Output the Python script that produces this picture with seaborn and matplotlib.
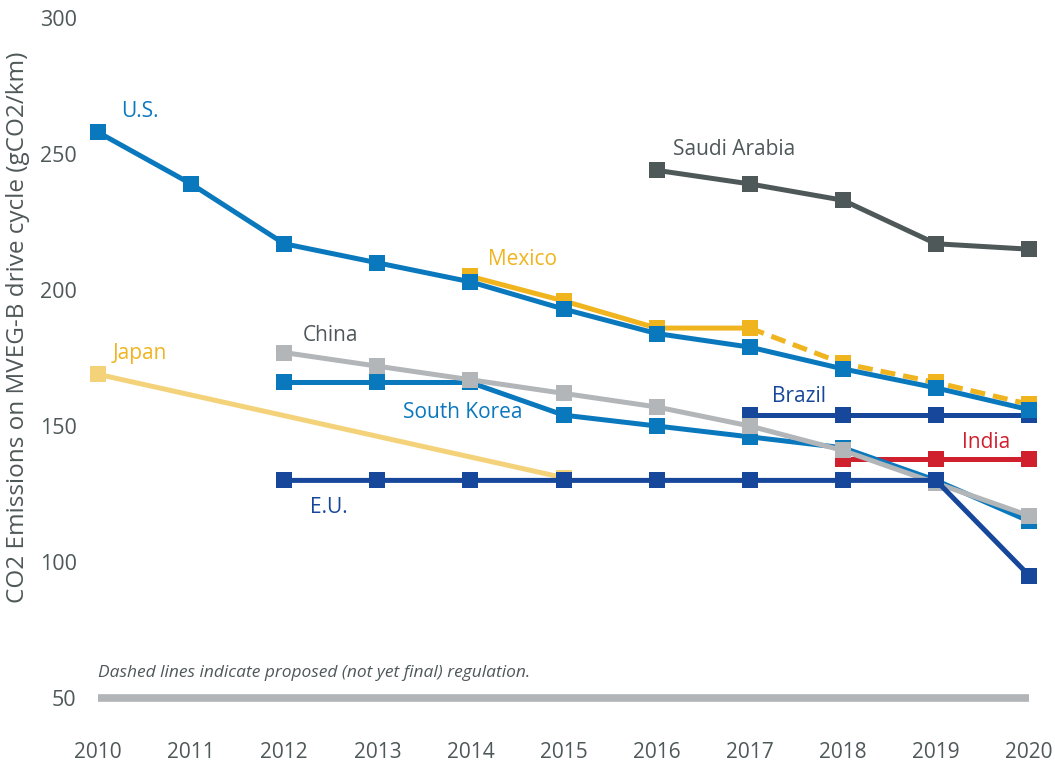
import matplotlib
matplotlib.use("Agg")
import matplotlib.pyplot as plt
import seaborn as sns
import pandas as pd

# ---- data (gCO2/km, MVEG-B drive cycle) ----
years_all = list(range(2010, 2021))

us_years = [2010, 2011, 2012, 2013, 2014, 2015, 2016, 2017, 2018, 2019, 2020]
us_values = [258, 239, 217, 210, 203, 193, 184, 179, 171, 164, 156]

mexico_years = [2014, 2015, 2016, 2017, 2018, 2019, 2020]
mexico_values = [205, 196, 186, 186, 173, 166, 158]
mexico_final_until = 2017  # later years are proposed regulation

saudi_years = [2016, 2017, 2018, 2019, 2020]
saudi_values = [244, 239, 233, 217, 215]

china_years = [2012, 2013, 2014, 2015, 2016, 2017, 2018, 2019, 2020]
china_values = [177, 172, 167, 162, 157, 150, 141, 129, 117]

korea_years = [2012, 2013, 2014, 2015, 2016, 2017, 2018, 2019, 2020]
korea_values = [166, 166, 166, 154, 150, 146, 142, 130, 115]

japan_years = [2010, 2015]
japan_values = [169, 131]

eu_years = [2012, 2013, 2014, 2015, 2016, 2017, 2018, 2019, 2020]
eu_values = [130, 130, 130, 130, 130, 130, 130, 130, 95]

brazil_years = [2017, 2018, 2019, 2020]
brazil_values = [154, 154, 154, 154]

india_years = [2018, 2019, 2020]
india_values = [138, 138, 138]

y_ticks = [50, 100, 150, 200, 250, 300]
note_text = "Dashed lines indicate proposed (not yet final) regulation."
y_label = "CO2 Emissions on MVEG-B drive cycle (gCO2/km)"

# ---- colours ----
BLUE = "#0a78bd"
DARK_BLUE = "#17479b"
YELLOW = "#f0b41e"
LIGHT_YELLOW = "#f3d27a"
GRAY = "#b2b6b9"
DARK_GRAY = "#4f5859"
RED = "#d0202e"
TEXT = "#4f5859"

sns.set_theme(style="white")
plt.rcParams["font.family"] = ["Open Sans", "DejaVu Sans"]

fig = plt.figure(figsize=(10.55, 7.68), dpi=100)
ax = fig.add_axes([85 / 1055, 1 - 711.6 / 768, 960 / 1055, 707.2 / 768])

LW = 3.6
MS = 11.5


def draw(years, values, color, z, dashed=False):
    df = pd.DataFrame({"year": years, "value": values})
    sns.lineplot(data=df, x="year", y="value", ax=ax, color=color,
                 linewidth=LW, marker="s", markersize=MS,
                 markeredgewidth=0, zorder=z,
                 linestyle=(0, (3, 1.6)) if dashed else "-")


draw(japan_years, japan_values, LIGHT_YELLOW, 2)
mex_df = pd.DataFrame({"year": mexico_years, "value": mexico_values})
final = mex_df[mex_df.year <= mexico_final_until]
proposed = mex_df[mex_df.year >= mexico_final_until]
draw(proposed.year, proposed.value, YELLOW, 3, dashed=True)
draw(final.year, final.value, YELLOW, 3.1)
draw(saudi_years, saudi_values, DARK_GRAY, 3)
draw(india_years, india_values, RED, 4)
draw(brazil_years, brazil_values, DARK_BLUE, 5)
draw(korea_years, korea_values, BLUE, 6)
draw(china_years, china_values, GRAY, 7)
draw(eu_years, eu_values, DARK_BLUE, 8)
draw(us_years, us_values, BLUE, 9)

# baseline at the bottom of the scale
ax.plot([years_all[0], years_all[-1]], [50, 50], color="#b1b5b8",
        linewidth=5.5, solid_capstyle="butt", zorder=1)

# series labels
labels = [
    ("U.S.", 2010.25, 265.5, BLUE),
    ("Saudi Arabia", 2016.18, 251.5, DARK_GRAY),
    ("Mexico", 2014.19, 211.3, YELLOW),
    ("China", 2012.2, 183.2, DARK_GRAY),
    ("Japan", 2010.16, 176.8, YELLOW),
    ("South Korea", 2013.28, 154.8, BLUE),
    ("Brazil", 2017.24, 160.8, DARK_BLUE),
    ("India", 2019.28, 143.8, RED),
    ("E.U.", 2012.28, 120.2, DARK_BLUE),
]
for txt, x, y, c in labels:
    ax.text(x, y, txt, color=c, fontsize=15, va="center", ha="left", zorder=10)

ax.text(2010.0, 59.3, note_text, color=TEXT, fontsize=12.5, style="italic",
        va="center", ha="left")

ax.set_xlim(2009.86, 2020.17)
ax.set_ylim(45, 305)
ax.set_xticks(years_all)
ax.set_xticklabels([str(y) for y in years_all])
ax.set_yticks(y_ticks)
ax.set_yticklabels([str(v) for v in y_ticks])
ax.tick_params(axis="x", length=0, pad=22, labelsize=15, labelcolor=TEXT)
ax.tick_params(axis="y", length=0, pad=6, labelsize=15.5, labelcolor=TEXT)
ax.set_xlabel("")
ax.set_ylabel("")
sns.despine(ax=ax, left=True, bottom=True)
ax.grid(False)

fig.text(18 / 1055, 1 - 327 / 768, y_label, rotation=90, color=TEXT,
         fontsize=17.5, ha="center", va="center")

fig.savefig("out.png", dpi=100)
